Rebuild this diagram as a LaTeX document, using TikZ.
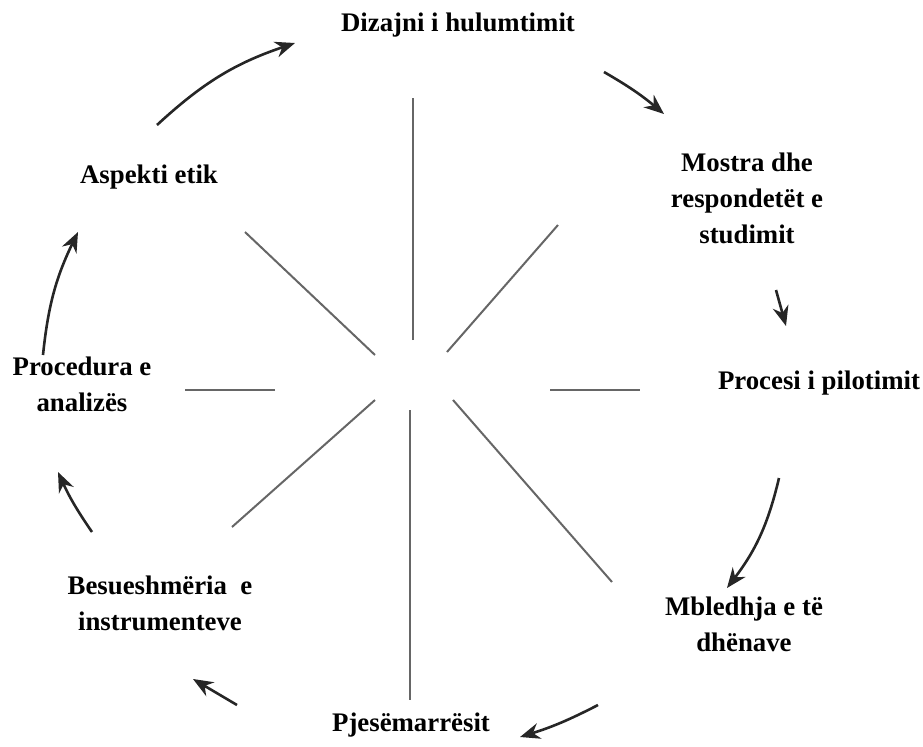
\documentclass[tikz,border=0pt]{standalone}
\usepackage{fontspec}
\setmainfont{Liberation Serif}
\usetikzlibrary{arrows.meta}

\begin{document}
\begin{tikzpicture}[
  x=0.5pt, y=-0.5pt,
  lbl/.style={
    font=\fontsize{13.4}{18}\selectfont\bfseries,
    align=center,
    inner sep=0pt
    },
  spoke/.style={draw=black!60, line width=1pt},
  flow/.style={
    draw=black!85,
    line width=1.3pt,
    -{Stealth[length=10pt,width=8pt]}
    }
]
\useasboundingbox (0,0) rectangle (923,746);

% labels round the circle
\node[lbl] (dizajni)   at (458,25)  {Dizajni i hulumtimit};
\node[lbl] (mostra)    at (747,198) {Mostra dhe\\respondetët e\\studimit};
\node[lbl] (procesi)   at (819,383) {Procesi i pilotimit};
\node[lbl] (mbledhja)  at (744,624) {Mbledhja e të\\dhënave};
\node[lbl] (pjese)     at (411,725) {Pjesëmarrësit};
\node[lbl] (besue)     at (160,603) {Besueshmëria~~e\\instrumenteve};
\node[lbl] (procedura) at (82,384)  {Procedura e\\analizës};
\node[lbl] (aspekti)   at (149,177) {Aspekti etik};

% spokes
\foreach \Dir/\Inner/\Outer in {
    n/{413,340}/{413,98},
    ne/{447,352}/{558,225},
    e/{550,390}/{640,390},
    se/{453,400}/{612,582},
    s/{410,410}/{410,700},
    sw/{375,400}/{232,527},
    w/{275,390}/{185,390},
    nw/{375,355}/{245,232}}
  {
  \coordinate (in-\Dir) at (\Inner);
  \coordinate (out-\Dir) at (\Outer);
  \draw[spoke] (in-\Dir) -- (out-\Dir);
  }

% arrows
\foreach \Name/\From/\To/\Bend in {
    one/{157,125}/{295,43}/12,
    two/{604,72}/{664,114}/5,
    three/{776,290}/{786,326}/0,
    four/{779,478}/{727,588}/12,
    five/{598,705}/{520,737}/5,
    six/{237,705}/{193,679}/0,
    seven/{92,532}/{58,472}/5,
    eight/{43,355}/{78,232}/10}
  {
  \coordinate (\Name-a) at (\From);
  \coordinate (\Name-b) at (\To);
  \draw[flow] (\Name-a) to[bend left=\Bend] (\Name-b);
  }
\end{tikzpicture}
\end{document}
